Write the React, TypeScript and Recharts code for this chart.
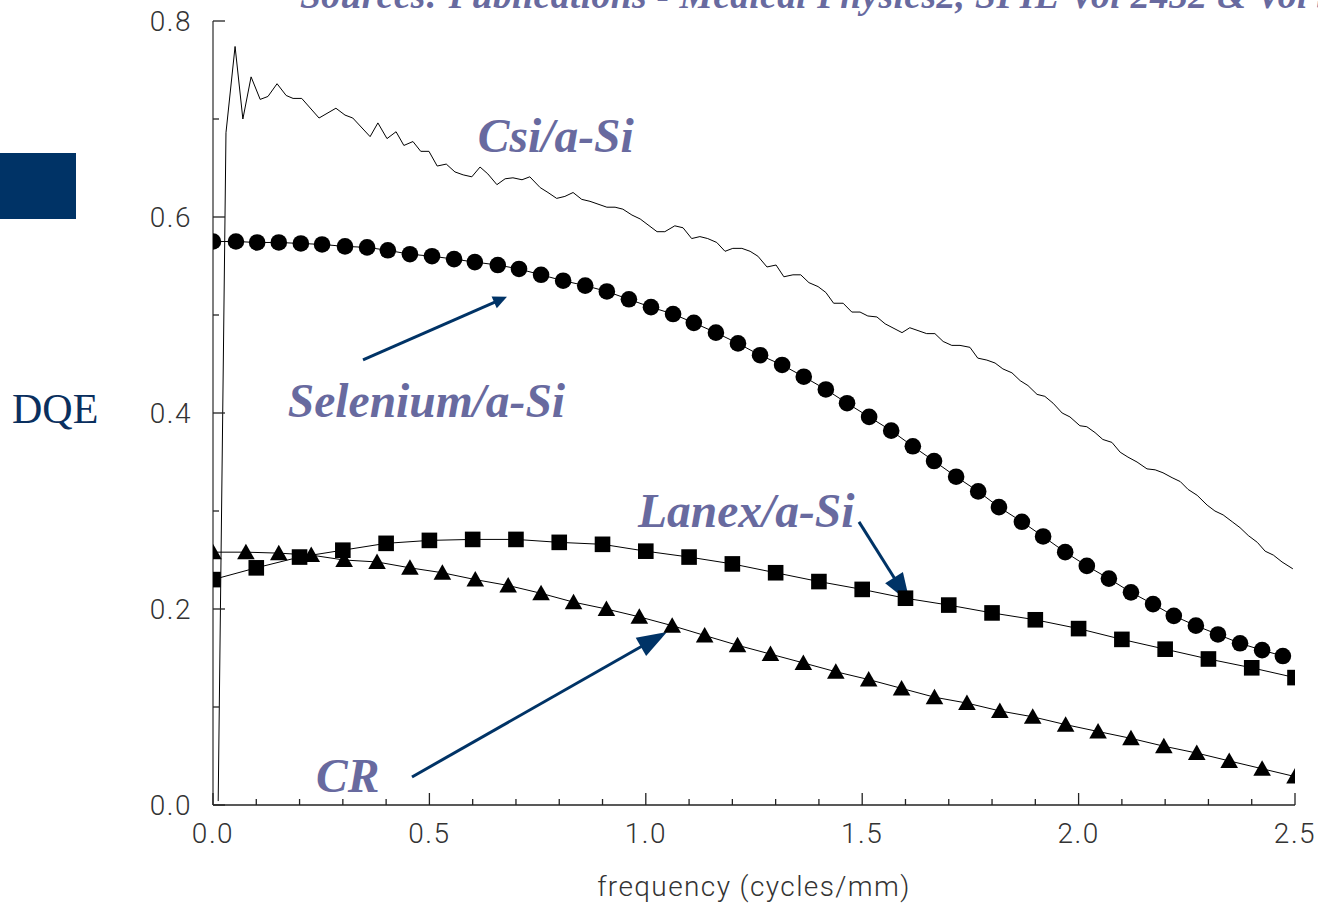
import React from 'react';
import { ComposedChart, Line, XAxis, YAxis, ReferenceDot, ReferenceLine } from 'recharts';

// ---------- data ----------
const csiFreq = [0.012, 0.030, 0.051, 0.069, 0.088, 0.109, 0.127, 0.148, 0.169, 0.185, 0.205, 0.245, 0.284, 0.305, 0.323, 0.363, 0.381, 0.402, 0.423, 0.441, 0.462, 0.480, 0.499, 0.518, 0.539, 0.559, 0.578, 0.598, 0.617, 0.635, 0.656, 0.675, 0.693, 0.714, 0.732, 0.756, 0.774, 0.794, 0.813, 0.832, 0.852, 0.871, 0.910, 0.929, 0.947, 0.968, 0.987, 1.026, 1.044, 1.067, 1.086, 1.106, 1.125, 1.143, 1.164, 1.183, 1.201, 1.222, 1.241, 1.259, 1.280, 1.301, 1.319, 1.340, 1.358, 1.377, 1.398, 1.416, 1.434, 1.456, 1.476, 1.495, 1.513, 1.534, 1.553, 1.592, 1.610, 1.649, 1.668, 1.687, 1.707, 1.726, 1.749, 1.767, 1.788, 1.807, 1.825, 1.846, 1.865, 1.883, 1.904, 1.922, 1.941, 1.962, 1.980, 2.003, 2.019, 2.038, 2.056, 2.077, 2.096, 2.114, 2.135, 2.158, 2.177, 2.195, 2.216, 2.235, 2.253, 2.274, 2.297, 2.315, 2.334, 2.355, 2.373, 2.392, 2.413, 2.431, 2.450, 2.470, 2.495];
const csiDqe = [0.004, 0.686, 0.774, 0.700, 0.743, 0.720, 0.723, 0.736, 0.724, 0.721, 0.721, 0.701, 0.711, 0.704, 0.701, 0.682, 0.696, 0.680, 0.687, 0.673, 0.677, 0.667, 0.667, 0.652, 0.654, 0.646, 0.643, 0.641, 0.651, 0.644, 0.633, 0.639, 0.640, 0.638, 0.641, 0.630, 0.625, 0.619, 0.621, 0.625, 0.618, 0.616, 0.610, 0.610, 0.608, 0.602, 0.598, 0.585, 0.585, 0.591, 0.589, 0.578, 0.580, 0.578, 0.574, 0.565, 0.568, 0.568, 0.565, 0.560, 0.549, 0.551, 0.539, 0.541, 0.541, 0.533, 0.529, 0.523, 0.512, 0.512, 0.503, 0.503, 0.499, 0.498, 0.491, 0.482, 0.487, 0.481, 0.481, 0.473, 0.469, 0.469, 0.467, 0.456, 0.454, 0.451, 0.445, 0.441, 0.433, 0.428, 0.419, 0.417, 0.410, 0.400, 0.396, 0.387, 0.386, 0.380, 0.373, 0.370, 0.360, 0.355, 0.350, 0.343, 0.342, 0.339, 0.334, 0.330, 0.322, 0.316, 0.306, 0.300, 0.296, 0.289, 0.283, 0.275, 0.268, 0.259, 0.255, 0.248, 0.241];

const seFreq = [0, 0.053, 0.102, 0.152, 0.203, 0.252, 0.305, 0.356, 0.404, 0.455, 0.506, 0.557, 0.605, 0.658, 0.707, 0.758, 0.809, 0.860, 0.910, 0.961, 1.012, 1.063, 1.111, 1.162, 1.213, 1.264, 1.315, 1.365, 1.416, 1.465, 1.516, 1.567, 1.617, 1.666, 1.717, 1.768, 1.816, 1.869, 1.918, 1.969, 2.019, 2.070, 2.121, 2.172, 2.220, 2.271, 2.322, 2.373, 2.424, 2.472];
const seDqe = [0.575, 0.575, 0.574, 0.574, 0.573, 0.572, 0.570, 0.569, 0.566, 0.562, 0.560, 0.557, 0.554, 0.551, 0.547, 0.541, 0.535, 0.530, 0.524, 0.516, 0.508, 0.501, 0.492, 0.482, 0.471, 0.459, 0.449, 0.437, 0.424, 0.410, 0.396, 0.382, 0.366, 0.351, 0.335, 0.320, 0.304, 0.289, 0.274, 0.258, 0.244, 0.231, 0.217, 0.205, 0.193, 0.183, 0.174, 0.165, 0.158, 0.152];

const lanexFreq = [0, 0.1, 0.2, 0.3, 0.4, 0.5, 0.6, 0.7, 0.8, 0.9, 1.0, 1.1, 1.2, 1.3, 1.4, 1.5, 1.6, 1.7, 1.8, 1.9, 2.0, 2.1, 2.2, 2.3, 2.4, 2.5];
const lanexDqe = [0.230, 0.242, 0.253, 0.260, 0.267, 0.270, 0.271, 0.271, 0.268, 0.266, 0.259, 0.253, 0.246, 0.237, 0.228, 0.220, 0.211, 0.204, 0.196, 0.189, 0.180, 0.169, 0.159, 0.149, 0.140, 0.130];

const crFreq = [0, 0.076, 0.152, 0.227, 0.303, 0.379, 0.455, 0.530, 0.606, 0.682, 0.758, 0.833, 0.909, 0.985, 1.061, 1.136, 1.212, 1.288, 1.364, 1.439, 1.515, 1.591, 1.667, 1.742, 1.818, 1.894, 1.970, 2.045, 2.121, 2.197, 2.273, 2.348, 2.424, 2.500];
const crDqe = [0.258, 0.258, 0.257, 0.255, 0.250, 0.248, 0.242, 0.237, 0.230, 0.224, 0.216, 0.207, 0.200, 0.192, 0.183, 0.173, 0.163, 0.154, 0.145, 0.136, 0.128, 0.119, 0.110, 0.104, 0.096, 0.090, 0.082, 0.075, 0.068, 0.060, 0.053, 0.045, 0.037, 0.029];

const xTicks = [0, 0.1, 0.2, 0.3, 0.4, 0.5, 0.6, 0.7, 0.8, 0.9, 1.0, 1.1, 1.2, 1.3, 1.4, 1.5, 1.6, 1.7, 1.8, 1.9, 2.0, 2.1, 2.2, 2.3, 2.4, 2.5];
const yTicks = [0, 0.1, 0.2, 0.3, 0.4, 0.5, 0.6, 0.7, 0.8];

const titleText = 'Sources: Publications - Medical Physics2, SPIE Vol 2432 & Vol 3';
const xLabel = 'frequency (cycles/mm)';
const yLabel = 'DQE';

// annotation anchors (data units)
const annotations = [
  { text: 'Csi/a-Si', x: 0.612, y: 0.6666 },
  { text: 'Selenium/a-Si', x: 0.173, y: 0.396 },
  { text: 'Lanex/a-Si', x: 0.982, y: 0.2838 },
  { text: 'CR', x: 0.238, y: 0.0133 },
];
const arrows = [
  { x1: 0.3466, y1: 0.4543, x2: 0.6793, y2: 0.5186, head: 14, w: 13 },
  { x1: 0.4598, y1: 0.0286, x2: 1.049, y2: 0.1766, head: 30, w: 21 },
  { x1: 1.4926, y1: 0.2889, x2: 1.6105, y2: 0.2062, head: 30, w: 21 },
];

const toPts = (xs: number[], ys: number[]) => xs.map((x, i) => ({ x, y: ys[i] }));
const csiData = toPts(csiFreq, csiDqe);
const seData = toPts(seFreq, seDqe);
const lanexData = toPts(lanexFreq, lanexDqe);
const crData = toPts(crFreq, crDqe);

// ---------- styles ----------
const ANNO = '#686a9f';
const NAVY = '#003366';
const TICK_FONT = 'Roboto, "DejaVu Sans", sans-serif';
const SERIF = '"Liberation Serif", "Times New Roman", serif';

const isMajorX = (v: number) => Math.abs(v * 2 - Math.round(v * 2)) < 1e-6;
const isMajorY = (v: number) => Math.abs(v * 5 - Math.round(v * 5)) < 1e-6;

const BottomTick = (p: any) => {
  const v = p.payload.value;
  const major = isMajorX(v);
  return (
    <g>
      <line x1={p.x} x2={p.x} y1={p.y} y2={p.y - (major ? 12 : 6)} stroke="#222" strokeWidth={1.3} />
      {major && (
        <text x={p.x} y={p.y + 38} textAnchor="middle" fontFamily={TICK_FONT} fontWeight={300} fontSize={28} fill="#333" letterSpacing={1.5}>
          {v.toFixed(1)}
        </text>
      )}
    </g>
  );
};
const TopTick = (p: any) => {
  const v = p.payload.value;
  const major = isMajorX(v);
  return <line x1={p.x} x2={p.x} y1={p.y} y2={p.y + (major ? 12 : 6)} stroke="#222" strokeWidth={1.3} />;
};
const LeftTick = (p: any) => {
  const v = p.payload.value;
  const major = isMajorY(v);
  return (
    <g>
      <line x1={p.x} x2={p.x + (major ? 12 : 6)} y1={p.y} y2={p.y} stroke="#222" strokeWidth={1.3} />
      {major && (
        <text x={p.x - 21} y={p.y + 10} textAnchor="end" fontFamily={TICK_FONT} fontWeight={300} fontSize={28} fill="#333" letterSpacing={1.5}>
          {v.toFixed(1)}
        </text>
      )}
    </g>
  );
};
const RightTick = (p: any) => {
  const v = p.payload.value;
  const major = isMajorY(v);
  return <line x1={p.x} x2={p.x - (major ? 12 : 6)} y1={p.y} y2={p.y} stroke="#222" strokeWidth={1.3} />;
};

const CircleDot = (p: any) =>
  p.cx == null ? <g key={`c${p.index}`} /> : <circle key={`c${p.index}`} cx={p.cx} cy={p.cy} r={8.3} fill="#000" />;
const SquareDot = (p: any) =>
  p.cx == null ? <g key={`s${p.index}`} /> : <rect key={`s${p.index}`} x={p.cx - 7.8} y={p.cy - 7.8} width={15.6} height={15.6} fill="#000" />;
const TriangleDot = (p: any) =>
  p.cx == null ? (
    <g key={`t${p.index}`} />
  ) : (
    <polygon key={`t${p.index}`} points={`${p.cx},${p.cy - 8.5} ${p.cx - 8.8},${p.cy + 7} ${p.cx + 8.8},${p.cy + 7}`} fill="#000" />
  );

const makeArrow = (head: number, w: number) => (p: any) => {
  const { x1, y1, x2, y2 } = p;
  if ([x1, y1, x2, y2].some((v) => v == null || isNaN(v))) return <g />;
  const dx = x2 - x1;
  const dy = y2 - y1;
  const L = Math.sqrt(dx * dx + dy * dy);
  const ux = dx / L;
  const uy = dy / L;
  const bx = x2 - ux * head;
  const by = y2 - uy * head;
  const px = -uy * (w / 2);
  const py = ux * (w / 2);
  return (
    <g>
      <line x1={x1} y1={y1} x2={bx + ux * 2} y2={by + uy * 2} stroke={NAVY} strokeWidth={3} />
      <polygon points={`${x2},${y2} ${bx + px},${by + py} ${bx - px},${by - py}`} fill={NAVY} />
    </g>
  );
};

const makeLabel = (text: string) => (p: any) =>
  p.cx == null ? (
    <g />
  ) : (
    <text x={p.cx} y={p.cy} fontFamily={SERIF} fontStyle="italic" fontWeight="bold" fontSize={47.5} fill={ANNO}>
      {text}
    </text>
  );

export default function App() {
  return (
    <div style={{ position: 'absolute', left: 0, top: 0, width: 1318, height: 904, background: '#fff', overflow: 'hidden' }}>
      <svg width={1318} height={904} style={{ position: 'absolute', left: 0, top: 0 }}>
        <text x={300} y={8} fontFamily={SERIF} fontStyle="italic" fontWeight="bold" fontSize={37.5} fill={ANNO} letterSpacing={0.4}>
          {titleText}
        </text>
        <rect x={0} y={153} width={76} height={66} fill={NAVY} />
        <text x={12} y={423} fontFamily={SERIF} fontSize={42} fill="#0a2f5e">
          {yLabel}
        </text>
        <text x={754} y={896} textAnchor="middle" fontFamily={TICK_FONT} fontWeight={300} fontSize={28} fill="#333" letterSpacing={1.4}>
          {xLabel}
        </text>
      </svg>
      <div style={{ position: 'absolute', left: 0, top: 0 }}>
        <ComposedChart width={1318} height={904} margin={{ top: 21, right: 23, bottom: 0, left: 0 }}>
          <XAxis
            xAxisId={0}
            dataKey="x"
            type="number"
            domain={[0, 2.5]}
            allowDataOverflow
            ticks={xTicks}
            interval={0}
            height={99}
            tickSize={0}
            tickMargin={0}
            tickLine={false}
            axisLine={{ stroke: '#222', strokeWidth: 1.5 }}
            tick={BottomTick}
          />
          <XAxis
            xAxisId="top"
            orientation="top"
            dataKey="x"
            type="number"
            domain={[0, 2.5]}
            allowDataOverflow
            ticks={xTicks}
            interval={0}
            height={0}
            tickSize={0}
            tickMargin={0}
            tickLine={false}
            axisLine={{ stroke: '#222', strokeWidth: 1.5 }}
            tick={TopTick}
          />
          <YAxis
            yAxisId={0}
            type="number"
            domain={[0, 0.8]}
            allowDataOverflow
            ticks={yTicks}
            interval={0}
            width={213}
            tickSize={0}
            tickMargin={0}
            tickLine={false}
            axisLine={{ stroke: '#555', strokeWidth: 1.5 }}
            tick={LeftTick}
          />
          <YAxis
            yAxisId="right"
            orientation="right"
            type="number"
            domain={[0, 0.8]}
            allowDataOverflow
            ticks={yTicks}
            interval={0}
            width={0}
            tickSize={0}
            tickMargin={0}
            tickLine={false}
            axisLine={{ stroke: '#777', strokeWidth: 2 }}
            tick={RightTick}
          />

          <Line data={csiData} dataKey="y" type="linear" stroke="#000" strokeWidth={1} dot={false} activeDot={false} isAnimationActive={false} />
          <Line data={seData} dataKey="y" type="linear" stroke="#000" strokeWidth={1} dot={CircleDot} activeDot={false} isAnimationActive={false} />
          <Line data={lanexData} dataKey="y" type="linear" stroke="#000" strokeWidth={1} dot={SquareDot} activeDot={false} isAnimationActive={false} />
          <Line data={crData} dataKey="y" type="linear" stroke="#000" strokeWidth={1} dot={TriangleDot} activeDot={false} isAnimationActive={false} />

          {arrows.map((a, i) => (
            <ReferenceLine
              key={`a${i}`}
              segment={[
                { x: a.x1, y: a.y1 },
                { x: a.x2, y: a.y2 },
              ]}
              ifOverflow="visible"
              shape={makeArrow(a.head, a.w)}
            />
          ))}
          {annotations.map((a, i) => (
            <ReferenceDot key={`l${i}`} x={a.x} y={a.y} r={1} ifOverflow="visible" shape={makeLabel(a.text)} />
          ))}
        </ComposedChart>
      </div>
    </div>
  );
}
